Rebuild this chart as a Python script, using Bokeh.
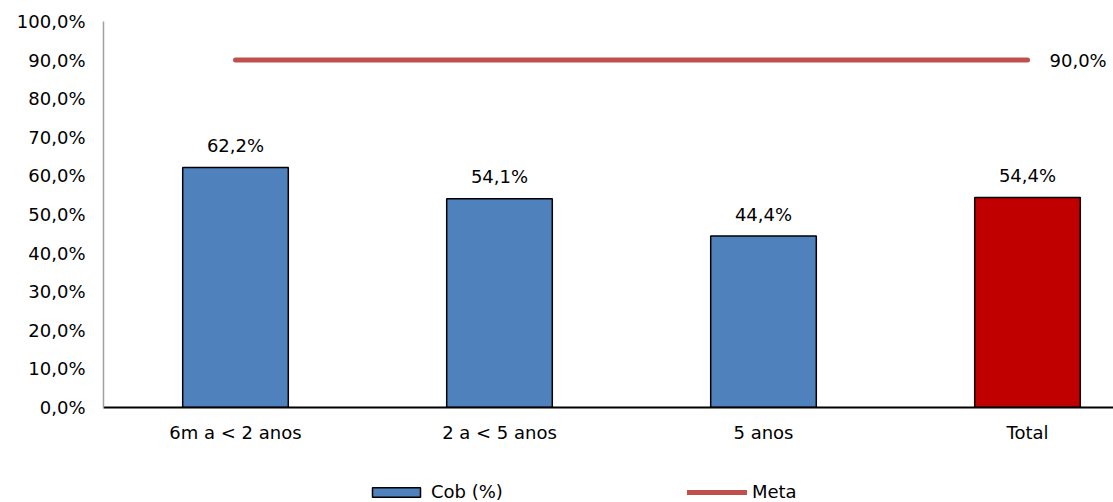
from bokeh.plotting import figure
from bokeh.layouts import column
from bokeh.models import (ColumnDataSource, FixedTicker, Legend, LegendItem,
                          Range1d, BoxAnnotation)
from bokeh.embed import file_html
from bokeh.resources import INLINE
from bokeh.core.properties import value

# ---- data ----
categories = ["6m a < 2 anos", "2 a < 5 anos", "5 anos", "Total"]
cob = [62.2, 54.1, 44.4, 54.4]
bar_colors = ["#4F81BD", "#4F81BD", "#4F81BD", "#C00000"]
meta = 90.0
y_ticks = [0, 10, 20, 30, 40, 50, 60, 70, 80, 90, 100]
series_names = ["Cob (%)", "Meta"]


def pct(v):
    return f"{v:.1f}".replace(".", ",") + "%"


y_tick_labels = [pct(t) for t in y_ticks]

FONT = "DejaVu Sans"
FS = "18px"
BLUE = bar_colors[0]
META_COLOR = "#C0504D"

xs = list(range(len(categories)))
src = ColumnDataSource(dict(x=xs, top=cob, color=bar_colors,
                            label=[pct(v) for v in cob]))
meta_x = [xs[0], xs[-1]]
meta_y = [meta, meta]
meta_src = ColumnDataSource(dict(x=meta_x, y=meta_y))

p = figure(width=1113, height=460, output_backend="svg", toolbar_location=None,
           x_range=Range1d(-0.5, -0.5 + 1010 / 264), y_range=Range1d(0, 100),
           min_border_left=103, min_border_right=0, min_border_top=21,
           min_border_bottom=53)
p.outline_line_color = None
p.xgrid.grid_line_color = None
p.ygrid.grid_line_color = None
p.background_fill_color = "white"
p.border_fill_color = "white"

p.vbar(x="x", top="top", width=0.40, bottom=0, source=src,
       fill_color="color", line_color="black", line_width=1.5)

p.text(x="x", y="top", text="label", source=src, text_align="center",
       text_baseline="middle", y_offset=-22, text_font=value(FONT),
       text_font_size=FS, text_color="black")

p.line(x="x", y="y", source=meta_src, line_color=META_COLOR,
       line_width=5, line_cap="round")
p.text(x=[xs[-1]], y=[meta], text=[pct(meta)], text_align="left",
       text_baseline="middle", x_offset=22, text_font=value(FONT),
       text_font_size=FS, text_color="black")

# axes
xa = p.xaxis[0]
xa.ticker = FixedTicker(ticks=xs)
xa.major_label_overrides = {i: c for i, c in enumerate(categories)}
xa.axis_line_color = "black"
xa.axis_line_width = 2
xa.major_tick_line_color = None
xa.minor_tick_line_color = None
xa.major_tick_out = 0
xa.major_tick_in = 0
xa.major_label_standoff = 14
xa.major_label_text_font = FONT
xa.major_label_text_font_size = FS
xa.major_label_text_color = "black"

ya = p.yaxis[0]
ya.ticker = FixedTicker(ticks=y_ticks)
ya.major_label_overrides = {t: l for t, l in zip(y_ticks, y_tick_labels)}
ya.axis_line_color = "#A0A0A0"
ya.axis_line_width = 1.5
ya.major_tick_line_color = None
ya.minor_tick_line_color = None
ya.major_tick_out = 0
ya.major_tick_in = 0
ya.major_label_standoff = 18
ya.major_label_text_font = FONT
ya.major_label_text_font_size = FS
ya.major_label_text_color = "black"

# ---- legend strip (separate small figure below); its proxy glyphs are
# hidden under a white box so only the legend shows ----
q = figure(width=1113, height=42, output_backend="svg", toolbar_location=None,
           x_range=Range1d(-0.5, -0.5 + 1010 / 264), y_range=Range1d(0, 100),
           x_axis_type=None, y_axis_type=None,
           min_border_left=103, min_border_right=0, min_border_top=0,
           min_border_bottom=0)
q.outline_line_color = None
q.xgrid.grid_line_color = None
q.ygrid.grid_line_color = None
lb = q.vbar(x="x", top="top", width=0.40, bottom=0, source=src,
            fill_color=BLUE, line_color="black", line_width=1.5)
ll = q.line(x="x", y="y", source=meta_src,
            line_color=META_COLOR, line_width=5, line_cap="round")

q.add_layout(BoxAnnotation(fill_color="white", fill_alpha=1.0,
                           line_color=None))

legend = Legend(items=[LegendItem(label=series_names[0], renderers=[lb]),
                       LegendItem(label=series_names[1], renderers=[ll])],
                orientation="horizontal", location=(263, 0),
                glyph_width=60, glyph_height=12, label_standoff=5,
                spacing=184, padding=0, margin=0,
                label_text_font=FONT, label_text_font_size=FS,
                label_text_color="black", label_height=20,
                border_line_color=None, background_fill_alpha=0)
q.add_layout(legend)

open("out.html", "w").write(file_html(column(p, q, spacing=0), INLINE))
